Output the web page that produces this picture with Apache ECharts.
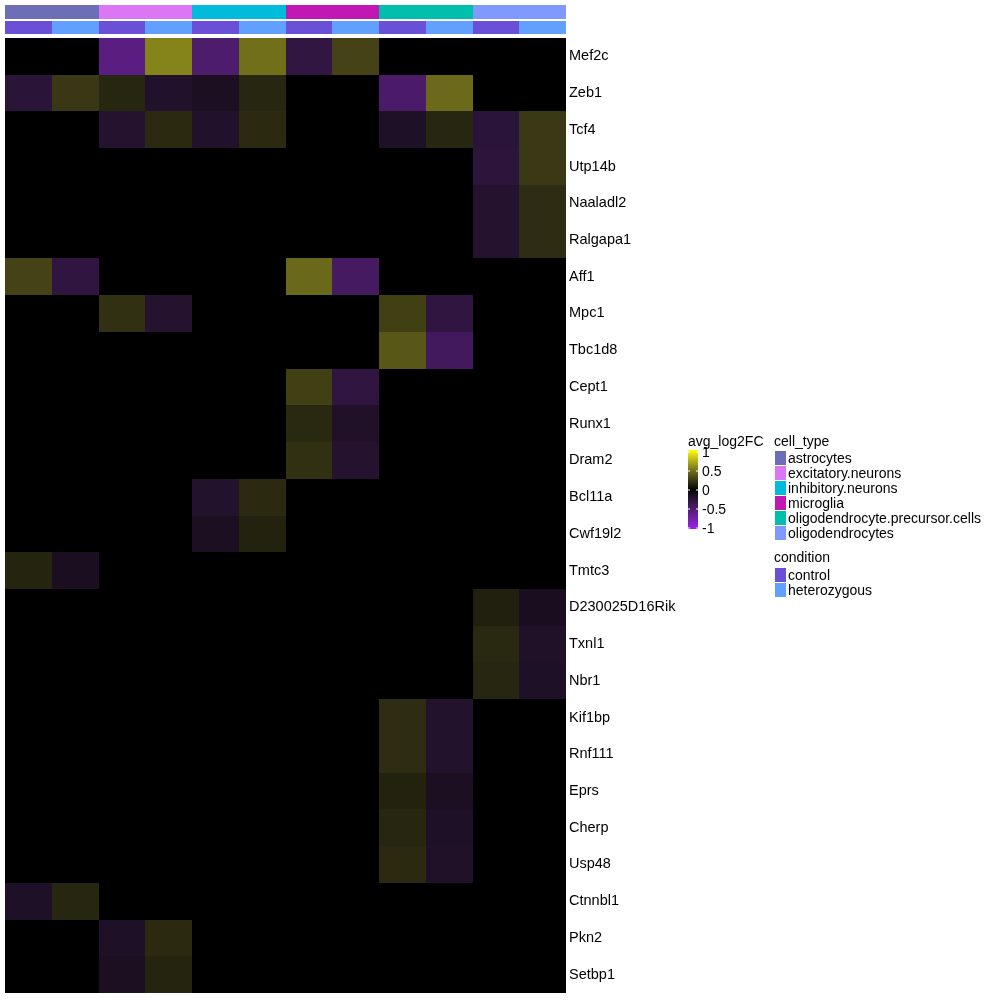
<!DOCTYPE html>
<html><head><meta charset="utf-8">
<script src="https://cdn.jsdelivr.net/npm/echarts@6/dist/echarts.min.js"></script>
<style>html,body{margin:0;padding:0;background:#fff}#c{width:1000px;height:1000px}</style>
</head><body><div id="c"></div>
<script>
// ---- data ----
const cellTypes = ['astrocytes','excitatory.neurons','inhibitory.neurons','microglia','oligodendrocyte.precursor.cells','oligodendrocytes'];
const conditions = ['control','heterozygous'];
const genes = ['Mef2c','Zeb1','Tcf4','Utp14b','Naaladl2','Ralgapa1','Aff1','Mpc1','Tbc1d8','Cept1','Runx1','Dram2','Bcl11a','Cwf19l2','Tmtc3','D230025D16Rik','Txnl1','Nbr1','Kif1bp','Rnf111','Eprs','Cherp','Usp48','Ctnnbl1','Pkn2','Setbp1'];
// columns: each cell type x (control, heterozygous)
const Mef2c        = [0,0,-0.57,0.55,-0.48,0.47,-0.29,0.28,0,0,0,0];
const Zeb1         = [-0.24,0.23,0.15,-0.18,-0.14,0.15,0,0,-0.47,0.45,0,0];
const Tcf4         = [0,0,-0.2,0.17,-0.18,0.17,0,0,-0.16,0.15,-0.25,0.24];
const Utp14b       = [0,0,0,0,0,0,0,0,0,0,-0.26,0.24];
const Naaladl2     = [0,0,0,0,0,0,0,0,0,0,-0.2,0.18];
const Ralgapa1     = [0,0,0,0,0,0,0,0,0,0,-0.2,0.18];
const Aff1         = [0.28,-0.28,0,0,0,0,0.44,-0.43,0,0,0,0];
const Mpc1         = [0,0,0.2,-0.2,0,0,0,0,0.27,-0.28,0,0];
const Tbc1d8       = [0,0,0,0,0,0,0,0,0.37,-0.41,0,0];
const Cept1        = [0,0,0,0,0,0,0.27,-0.28,0,0,0,0];
const Runx1        = [0,0,0,0,0,0,0.16,-0.17,0,0,0,0];
const Dram2        = [0,0,0,0,0,0,0.2,-0.2,0,0,0,0];
const Bcl11a       = [0,0,0,0,-0.19,0.17,0,0,0,0,0,0];
const Cwf19l2      = [0,0,0,0,-0.14,0.13,0,0,0,0,0,0];
const Tmtc3        = [0.14,-0.13,0,0,0,0,0,0,0,0,0,0];
const D230025D16Rik= [0,0,0,0,0,0,0,0,0,0,0.12,-0.12];
const Txnl1        = [0,0,0,0,0,0,0,0,0,0,0.16,-0.17];
const Nbr1         = [0,0,0,0,0,0,0,0,0,0,0.15,-0.16];
const Kif1bp       = [0,0,0,0,0,0,0,0,0.18,-0.19,0,0];
const Rnf111       = [0,0,0,0,0,0,0,0,0.18,-0.19,0,0];
const Eprs         = [0,0,0,0,0,0,0,0,0.13,-0.14,0,0];
const Cherp        = [0,0,0,0,0,0,0,0,0.15,-0.16,0,0];
const Usp48        = [0,0,0,0,0,0,0,0,0.17,-0.17,0,0];
const Ctnnbl1      = [-0.16,0.15,0,0,0,0,0,0,0,0,0,0];
const Pkn2         = [0,0,-0.16,0.17,0,0,0,0,0,0,0,0];
const Setbp1       = [0,0,-0.14,0.14,0,0,0,0,0,0,0,0];
const legendTicks = [1,0.5,0,-0.5,-1];

const rowsByGene = {Mef2c,Zeb1,Tcf4,Utp14b,Naaladl2,Ralgapa1,Aff1,Mpc1,Tbc1d8,Cept1,Runx1,Dram2,Bcl11a,Cwf19l2,Tmtc3,D230025D16Rik,Txnl1,Nbr1,Kif1bp,Rnf111,Eprs,Cherp,Usp48,Ctnnbl1,Pkn2,Setbp1};

// ---- styles ----
const cellTypeColors = ['#6C6FB6','#DB77F5','#00BBDC','#C218B3','#00C0AB','#7F99FF'];
const conditionColors = ['#6A50D6','#61A0FF'];
const FONT = 'Liberation Sans, Arial, sans-serif';

// colour ramp interpolated in LAB space (purple - black - yellow)
function srgb2lin(c){ c/=255; return c<=0.04045? c/12.92 : Math.pow((c+0.055)/1.055,2.4); }
function lin2srgb(c){ c = c<=0.0031308? 12.92*c : 1.055*Math.pow(c,1/2.4)-0.055; return Math.max(0,Math.min(255,Math.round(c*255))); }
function hex2lab(h){
  const r=srgb2lin(parseInt(h.substr(1,2),16)), g=srgb2lin(parseInt(h.substr(3,2),16)), b=srgb2lin(parseInt(h.substr(5,2),16));
  const X=(0.4124*r+0.3576*g+0.1805*b)/0.95047, Y=0.2126*r+0.7152*g+0.0722*b, Z=(0.0193*r+0.1192*g+0.9505*b)/1.08883;
  const f=t=> t>0.008856? Math.cbrt(t) : 7.787*t+16/116;
  return [116*f(Y)-16, 500*(f(X)-f(Y)), 200*(f(Y)-f(Z))];
}
function lab2hex(L,a,bb){
  const fy=(L+16)/116, fx=fy+a/500, fz=fy-bb/200;
  const fi=t=> t>0.2069? t*t*t : (t-16/116)/7.787;
  const X=0.95047*fi(fx), Y=fi(fy), Z=1.08883*fi(fz);
  const r=3.2406*X-1.5372*Y-0.4986*Z, g=-0.9689*X+1.8758*Y+0.0415*Z, b=0.0557*X-0.2040*Y+1.0570*Z;
  return '#'+[r,g,b].map(v=>lin2srgb(Math.max(0,v)).toString(16).padStart(2,'0')).join('');
}
const LOW='#A020F0', MID='#000000', HIGH='#FFFF00';
const labLow=hex2lab(LOW), labMid=hex2lab(MID), labHigh=hex2lab(HIGH);
const N=40, ramp=[];
for(let i=0;i<=N;i++){
  const v=-1+2*i/N;
  const A= v<0? labMid : labMid, B= v<0? labLow : labHigh, t=Math.abs(v);
  ramp.push(lab2hex(A[0]+(B[0]-A[0])*t, A[1]+(B[1]-A[1])*t, A[2]+(B[2]-A[2])*t));
}

const columns = [];
cellTypes.forEach(ct => conditions.forEach(cd => columns.push(ct + '|' + cd)));

const heatData = [];
genes.forEach((g, yi) => rowsByGene[g].forEach((v, xi) => heatData.push([xi, yi, v])));

const ctData = columns.map((c, i) => [i, 0, Math.floor(i / 2)]);
const cdData = columns.map((c, i) => [i, 0, i % 2]);

function cellRect(api){
  const p = api.coord([api.value(0), api.value(1)]);
  const s = api.size([1, 1]);
  const x0=Math.round(p[0]-s[0]/2), x1=Math.round(p[0]+s[0]/2);
  const y0=Math.round(p[1]-s[1]/2), y1=Math.round(p[1]+s[1]/2);
  return { x:x0, y:y0, width:x1-x0, height:y1-y0 };
}
function annoRender(colors) {
  return function (params, api) {
    return { type: 'rect', shape: cellRect(api), style: { fill: colors[api.value(2)] } };
  };
}
function heatRender(params, api){
  return { type: 'rect', shape: cellRect(api), style: { fill: api.visual('color') } };
}

const L = 5, W = 561;
const chart = echarts.init(document.getElementById('c'), null, { renderer: 'canvas' });

const graphics = [];
// colorbar legend
const cbX = 688, cbTop = 450, cbH = 79, cbW = 10;
graphics.push({ type: 'text', left: 688, top: 435, style: { text: 'avg_log2FC', font: '14px ' + FONT, fill: '#000' } });
graphics.push({ type: 'rect', shape: { x: cbX, y: cbTop, width: cbW, height: cbH },
  style: { fill: new echarts.graphic.LinearGradient(0, 0, 0, 1,
    ramp.slice().reverse().map((c,i)=>({ offset: i/N, color: c }))) } });
legendTicks.forEach(t => {
  const y = 452 + (1 - t) / 2 * 76;
  graphics.push({ type: 'line', shape: { x1: cbX, y1: y, x2: cbX + 2, y2: y }, style: { stroke: '#fff', lineWidth: 1 } });
  graphics.push({ type: 'line', shape: { x1: cbX + cbW - 2, y1: y, x2: cbX + cbW, y2: y }, style: { stroke: '#fff', lineWidth: 1 } });
  graphics.push({ type: 'text', x: 702, y: y + 1, style: { text: String(t), font: '14px ' + FONT, fill: '#000', textVerticalAlign: 'middle' } });
});
// cell_type legend
graphics.push({ type: 'text', left: 774, top: 435, style: { text: 'cell_type', font: '14px ' + FONT, fill: '#000' } });
cellTypes.forEach((ct, i) => {
  const y = 451 + i * 15;
  graphics.push({ type: 'rect', shape: { x: 775, y: y, width: 11, height: 14 }, style: { fill: cellTypeColors[i] } });
  graphics.push({ type: 'text', x: 788, y: y + 8.5, style: { text: ct, font: '14px ' + FONT, fill: '#000', textVerticalAlign: 'middle' } });
});
graphics.push({ type: 'text', left: 774, top: 551, style: { text: 'condition', font: '14px ' + FONT, fill: '#000' } });
conditions.forEach((cd, i) => {
  const y = 568 + i * 15;
  graphics.push({ type: 'rect', shape: { x: 775, y: y, width: 11, height: 14 }, style: { fill: conditionColors[i] } });
  graphics.push({ type: 'text', x: 788, y: y + 8.5, style: { text: cd, font: '14px ' + FONT, fill: '#000', textVerticalAlign: 'middle' } });
});

chart.setOption({
  animation: false,
  backgroundColor: '#fff',
  grid: [
    { left: L, top: 38, width: W, height: 955 },
    { left: L, top: 5, width: W, height: 14 },
    { left: L, top: 21, width: W, height: 13 }
  ],
  xAxis: [0, 1, 2].map(i => ({
    type: 'category', gridIndex: i, data: columns,
    axisLine: { show: false }, axisTick: { show: false }, axisLabel: { show: false }, splitLine: { show: false }
  })),
  yAxis: [
    { type: 'category', gridIndex: 0, data: genes, inverse: true, position: 'right',
      axisLine: { show: false }, axisTick: { show: false }, splitLine: { show: false },
      axisLabel: { margin: 3, fontSize: 14.5, fontFamily: FONT, color: '#000', padding: [3, 0, 0, 0] } },
    { type: 'category', gridIndex: 1, data: ['cell_type'], show: false },
    { type: 'category', gridIndex: 2, data: ['condition'], show: false }
  ],
  visualMap: {
    show: false, seriesIndex: 0, dimension: 2, min: -1, max: 1, calculable: false,
    inRange: { color: ramp }
  },
  series: [
    { type: 'custom', xAxisIndex: 0, yAxisIndex: 0, data: heatData, renderItem: heatRender, encode: { x: 0, y: 1 } },
    { type: 'custom', xAxisIndex: 1, yAxisIndex: 1, data: ctData, renderItem: annoRender(cellTypeColors), encode: { x: 0, y: 1 } },
    { type: 'custom', xAxisIndex: 2, yAxisIndex: 2, data: cdData, renderItem: annoRender(conditionColors), encode: { x: 0, y: 1 } }
  ],
  graphic: graphics
});
</script></body></html>
